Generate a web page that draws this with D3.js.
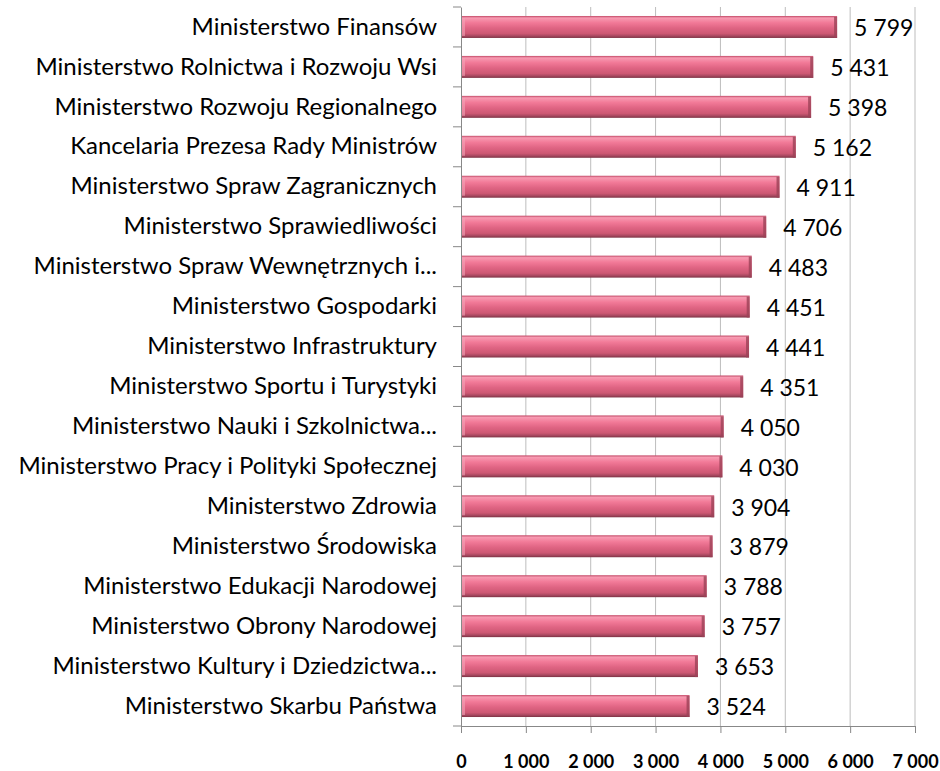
<!DOCTYPE html>
<html>
<head>
<meta charset="utf-8">
<script src="https://cdn.jsdelivr.net/npm/d3@7"></script>
<style>
  body { margin: 0; background: #fff; }
  svg { display: block; font-family: Lato, "Open Sans", sans-serif; }
</style>
</head>
<body>
<svg id="chart"></svg>
<script>
(function() {

const categories = [
    "Ministerstwo Finansów",
    "Ministerstwo Rolnictwa i Rozwoju Wsi",
    "Ministerstwo Rozwoju Regionalnego",
    "Kancelaria Prezesa Rady Ministrów",
    "Ministerstwo Spraw Zagranicznych",
    "Ministerstwo Sprawiedliwości",
    "Ministerstwo Spraw Wewnętrznych i...",
    "Ministerstwo Gospodarki",
    "Ministerstwo Infrastruktury",
    "Ministerstwo Sportu i Turystyki",
    "Ministerstwo Nauki i Szkolnictwa...",
    "Ministerstwo Pracy i Polityki Społecznej",
    "Ministerstwo Zdrowia",
    "Ministerstwo Środowiska",
    "Ministerstwo Edukacji Narodowej",
    "Ministerstwo Obrony Narodowej",
    "Ministerstwo Kultury i Dziedzictwa...",
    "Ministerstwo Skarbu Państwa"
];
const values = [5799, 5431, 5398, 5162, 4911, 4706, 4483, 4451, 4441, 4351,
                4050, 4030, 3904, 3879, 3788, 3757, 3653, 3524];
const xTicks = [0, 1000, 2000, 3000, 4000, 5000, 6000, 7000];

const W = 940, H = 771;
const margin = { top: 7, right: 25, bottom: 45, left: 461 };
const width = W - margin.left - margin.right;
const height = H - margin.top - margin.bottom;

const data = categories.map((c, i) => ({ name: c, value: values[i] }));

const fmt = d3.formatLocale({ decimal: ",", thousands: " ", grouping: [3], currency: ["", ""] }).format(",d");

const svg = d3.select("#chart")
    .attr("width", W)
    .attr("height", H);

// bar gradient (glossy cylinder look)
const defs = svg.append("defs");
const grad = defs.append("linearGradient")
    .attr("id", "barGrad")
    .attr("x1", 0).attr("y1", 0).attr("x2", 0).attr("y2", 1);
[
    ["0%", "#c24866"],
    ["9%", "#f79bb2"],
    ["30%", "#f27a98"],
    ["55%", "#df6483"],
    ["80%", "#cd5873"],
    ["91%", "#a84860"],
    ["100%", "#7c3344"]
].forEach(s => grad.append("stop").attr("offset", s[0]).attr("stop-color", s[1]));

const g = svg.append("g")
    .attr("transform", `translate(${margin.left},${margin.top})`);

const x = d3.scaleLinear()
    .domain([0, 7000])
    .range([0, width]);

const y = d3.scaleBand()
    .domain(categories)
    .range([0, height])
    .paddingInner(0.45)
    .paddingOuter(0.225);

// gridlines
g.selectAll(".grid")
    .data(xTicks.slice(1))
    .enter().append("line")
    .attr("class", "grid")
    .attr("x1", d => x(d)).attr("x2", d => x(d))
    .attr("y1", 0).attr("y2", height)
    .attr("stroke", "#bdbdbd")
    .attr("stroke-width", 1);

// bars
const bars = g.selectAll(".bar")
    .data(data)
    .enter().append("g")
    .attr("class", "bar");

bars.append("rect")
    .attr("x", 0)
    .attr("y", d => y(d.name))
    .attr("width", d => x(d.value))
    .attr("height", y.bandwidth())
    .attr("fill", "url(#barGrad)");

// right end cap
bars.append("rect")
    .attr("x", d => x(d.value) - 3)
    .attr("y", d => y(d.name) + 1)
    .attr("width", 3)
    .attr("height", y.bandwidth() - 1)
    .attr("fill", "#9c4258")
    .attr("opacity", 0.8);

// left bevel
bars.append("rect")
    .attr("x", 0)
    .attr("y", d => y(d.name) + 2)
    .attr("width", 4)
    .attr("height", y.bandwidth() - 4)
    .attr("fill", "#f4a3b7")
    .attr("opacity", 0.6);

// value labels
g.selectAll(".label")
    .data(data)
    .enter().append("text")
    .attr("class", "label")
    .attr("x", d => x(d.value) + 17)
    .attr("y", d => y(d.name) + y.bandwidth() / 2)
    .attr("dy", "0.4em")
    .attr("font-size", "23px")
    .attr("fill", "#000")
    .text(d => fmt(d.value));

// y axis
const yAxis = g.append("g")
    .call(d3.axisLeft(y).tickSize(0).tickPadding(24));
yAxis.select(".domain").attr("stroke", "#888");
yAxis.selectAll("text")
    .attr("font-size", "24px")
    .attr("font-family", "Lato, sans-serif")
    .attr("fill", "#000");

// category separator ticks
const bounds = d3.range(categories.length + 1).map(i => i * y.step());
g.selectAll(".ytick")
    .data(bounds)
    .enter().append("line")
    .attr("class", "ytick")
    .attr("x1", -8).attr("x2", 0)
    .attr("y1", d => d).attr("y2", d => d)
    .attr("stroke", "#888");

// x axis
const xAxis = g.append("g")
    .attr("transform", `translate(0,${height})`)
    .call(d3.axisBottom(x).tickValues(xTicks).tickSize(7).tickPadding(22).tickFormat(fmt));
xAxis.select(".domain").attr("stroke", "#888");
xAxis.selectAll(".tick line").attr("stroke", "#888");
xAxis.selectAll("text")
    .attr("font-size", "18px")
    .attr("font-weight", "bold")
    .attr("font-family", "Lato, sans-serif")
    .attr("fill", "#000");

})();
</script>
</body>
</html>
